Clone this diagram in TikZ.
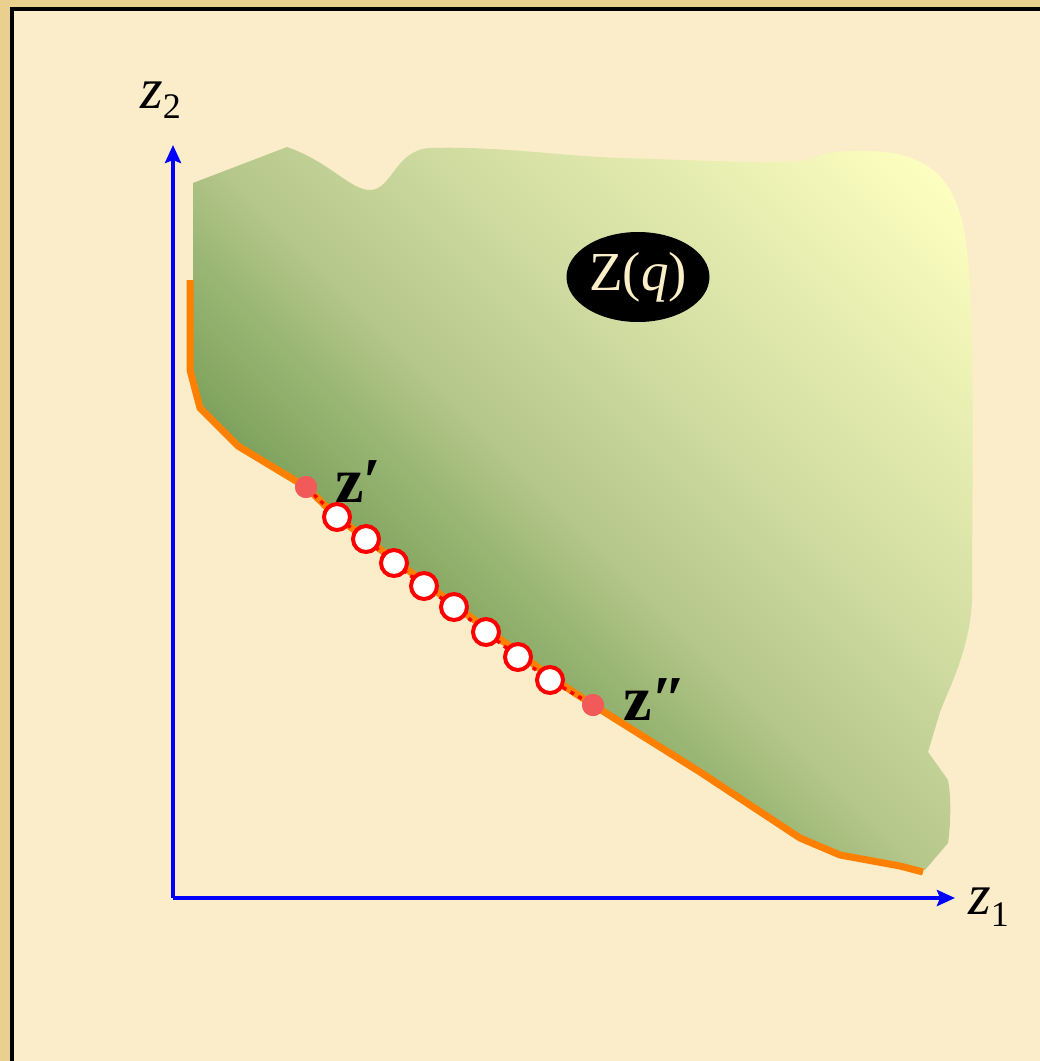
\documentclass[tikz,border=0pt]{standalone}
\usepackage{fontspec}
\setmainfont{Liberation Serif}
\newfontfamily\tnr{Liberation Serif}
\usetikzlibrary{arrows.meta}
\definecolor{bgc}{HTML}{FBEDC9}
\definecolor{goldc}{HTML}{EAD08F}
\definecolor{gA}{HTML}{7AA05A}
\definecolor{gB}{HTML}{9DB876}
\definecolor{gC}{HTML}{B5C78B}
\definecolor{gD}{HTML}{D2DDA2}
\definecolor{gE}{HTML}{FDFFC0}
\definecolor{orangec}{HTML}{FF8000}
\definecolor{dotc}{HTML}{F25A5A}
\definecolor{creamc}{HTML}{FBEFC8}
\pgfdeclareverticalshading{greensh}{100bp}{color(0bp)=(gA); color(30bp)=(gA); color(37bp)=(gB); color(41bp)=(gC); color(51bp)=(gD); color(69bp)=(gE); color(100bp)=(gE)}
\begin{document}
\begin{tikzpicture}[x=1pt,y=-1pt,
  axis/.style={draw=blue,line width=4pt,-{Stealth[length=18pt,width=16pt,inset=3pt]}},
  hollow/.style={circle,draw=red,fill=white,line width=4pt,minimum size=26pt,inner sep=0pt},
  solid/.style={circle,fill=dotc,minimum size=22pt,inner sep=0pt},
  boundary/.style={draw=orangec,line width=7pt},
  lab/.style={inner sep=0pt,anchor=base west,font=\tnr}]
\useasboundingbox (0,0) rectangle (1040,1061);
\fill[goldc] (0,0) rectangle (1040,1061);
\fill[bgc] (12,8.5) rectangle (1060,1080);
\draw[black,line width=4pt] (1060,8.5) -- (12,8.5) -- (12,1080);
% green region
\def\greenpath{(193,183) -- (287,147) .. controls (330,162) and (350,190) .. (370,190)
 .. controls (392,190) and (395,150) .. (430,148) .. controls (500,146) and (560,156) .. (620,158)
 .. controls (700,160) and (780,165) .. (808,160) .. controls (825,152) and (840,150) .. (870,151)
 .. controls (940,153) and (962,190) .. (968,260) .. controls (975,340) and (972,500) .. (972,600)
 .. controls (970,650) and (948,690) .. (940,712) -- (928,752) -- (948,780)
 .. controls (952,800) and (950,830) .. (948,843) -- (925,870) -- (900,866) -- (840,855)
 -- (800,838) -- (700,772) -- (593,705) -- (552,678) -- (337,517) -- (306,487) -- (238,446)
 -- (200,408) -- (193,370) -- cycle}
\begin{scope}
\clip \greenpath;
\begin{scope}[transform canvas={shift={(581,509)},rotate=-45}]
\shade[shading=greensh] (-600,300) rectangle (600,-600);
\end{scope}
\end{scope}
% boundary
\draw[boundary] (190,280) -- (190,370) -- (200,408) -- (238,446) -- (306,487) -- (337,517)
 -- (552,678) -- (593,705) -- (700,772) -- (800,838) -- (840,855) -- (900,866) -- (923,872);
% axes
\coordinate (O) at (173,898);
\coordinate (Y) at (173,145);
\coordinate (X) at (955,898);
\draw[axis] (O) -- (Y);
\draw[axis] (O) -- (X);
\node[lab] (z2) at (140,108) {\fontsize{58}{58}\selectfont\itshape z\raisebox{-10pt}{\upshape\fontsize{36}{36}\selectfont 2}};
\node[lab] (z1) at (968,914) {\fontsize{58}{58}\selectfont\itshape z\raisebox{-12pt}{\upshape\fontsize{36}{36}\selectfont 1}};
% ellipse
\fill[black] (638,277) ellipse [x radius=71.5, y radius=45];
\node[text=creamc,inner sep=0pt,font=\tnr] (Zq) at (638,277) {\fontsize{55}{55}\selectfont Z(\textit{q})};
% points
\node[solid] (zp) at (306,487) {};
\node[solid] (zpp) at (593,705) {};
\foreach \i/\x/\y in {1/337/517,2/366/539,3/394/563,4/424/586,5/454/607,6/486/632,7/518/657,8/550/680}
  \coordinate (p\i) at (\x,\y);
\draw[red,line width=3.5pt,dash pattern=on 4pt off 5pt] (zp) -- (p1) -- (p2) -- (p3) -- (p4) -- (p5) -- (p6) -- (p7) -- (p8) -- (zpp);
\foreach \i in {1,...,8} \node[hollow] (c\i) at (p\i) {};
\node[solid] at (zp) {};
\node[solid] at (zpp) {};
\node[lab] (lzp) at (335,502) {\fontsize{64}{64}\selectfont\bfseries z′};
\node[lab] (lzpp) at (623,720) {\fontsize{64}{64}\selectfont\bfseries z″};
\end{tikzpicture}
\end{document}
